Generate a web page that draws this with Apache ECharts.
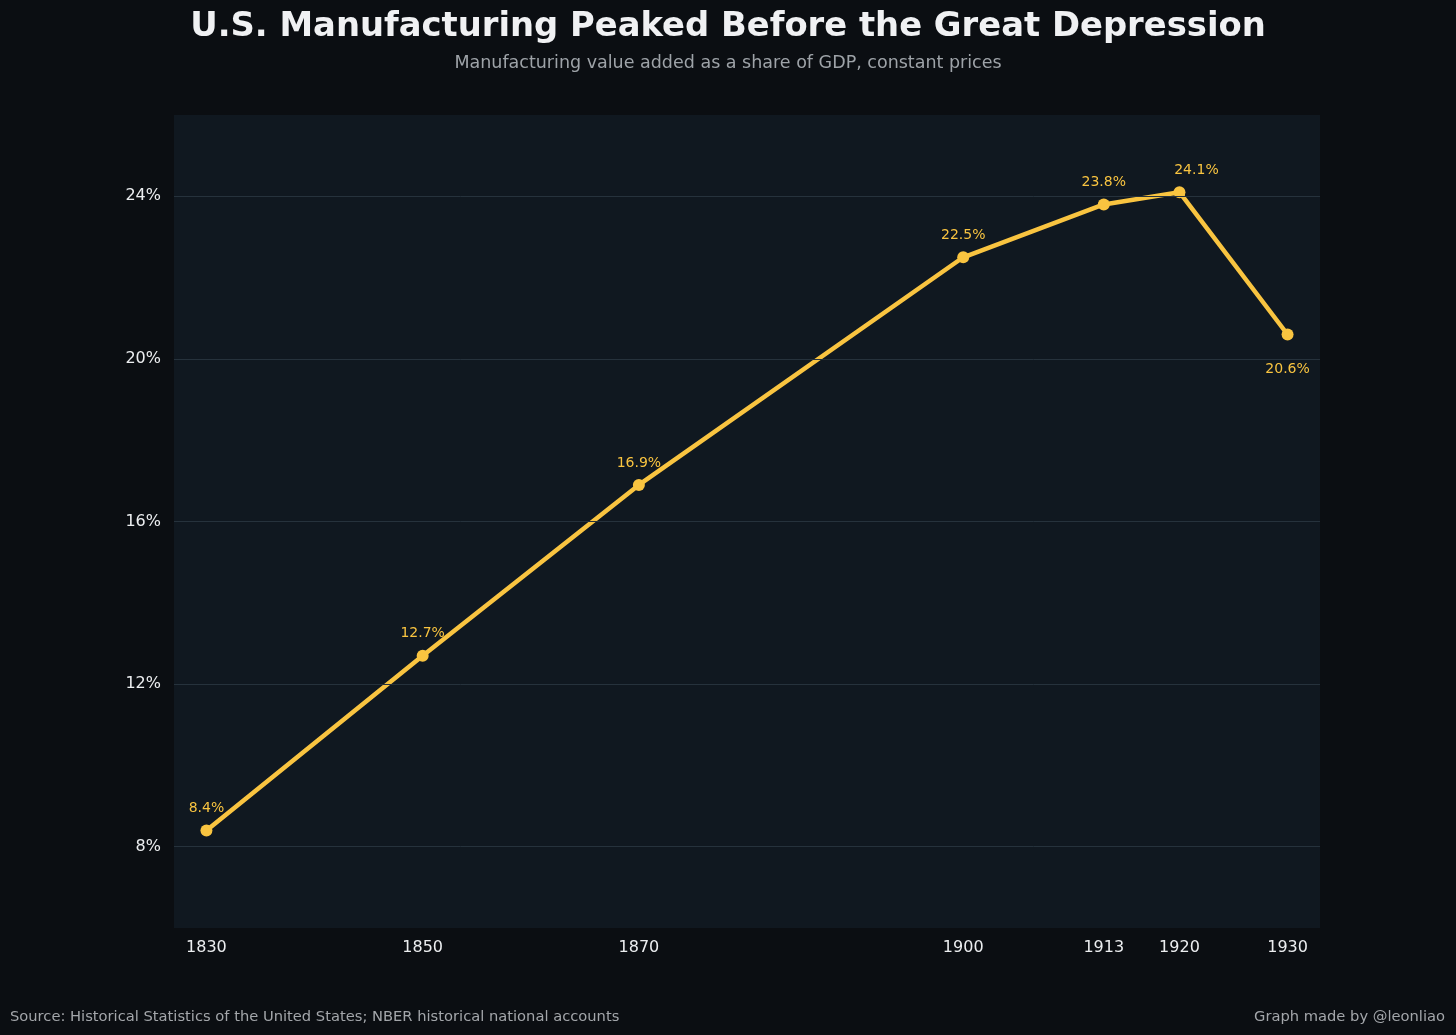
<!DOCTYPE html>
<html>
<head>
<meta charset="utf-8">
<script src="https://cdn.jsdelivr.net/npm/echarts@6/dist/echarts.min.js"></script>
<style>
  html, body { margin: 0; padding: 0; background: #0b0e12; }
  #chart { width: 1456px; height: 1035px; }
</style>
</head>
<body>
<div id="chart"></div>
<script>
const years = [1830, 1850, 1870, 1900, 1913, 1920, 1930];
const shares = [8.4, 12.7, 16.9, 22.5, 23.8, 24.1, 20.6];
const xTicks = [1830, 1850, 1870, 1900, 1913, 1920, 1930];
const yTicks = [8, 12, 16, 20, 24];

const FONT = '"DejaVu Sans", sans-serif';
const GOLD = '#f9c440';

// where each point label sits (matches the original annotation offsets)
const labelTweaks = {
  1920: { offset: [17, 0] },
  1930: { position: 'bottom', distance: 22 }
};

const chart = echarts.init(document.getElementById('chart'));

chart.setOption({
  backgroundColor: '#0b0e12',
  animation: false,
  title: [{
    text: 'U.S. Manufacturing Peaked Before the Great Depression',
    left: 'center',
    top: 5,
    textStyle: { fontFamily: FONT, fontSize: 33.8, fontWeight: 'bold', color: '#f0f1f3' }
  }, {
    text: 'Manufacturing value added as a share of GDP, constant prices',
    left: 'center',
    top: 49,
    textStyle: { fontFamily: FONT, fontSize: 17.5, fontWeight: 'normal', color: '#9ea3a8' }
  }, {
    text: 'Source: Historical Statistics of the United States; NBER historical national accounts',
    left: 5,
    top: 1005,
    textStyle: { fontFamily: FONT, fontSize: 14.7, fontWeight: 'normal', color: '#a3a6aa' }
  }, {
    text: 'Graph made by @leonliao',
    right: 6,
    top: 1005,
    textStyle: { fontFamily: FONT, fontSize: 14.7, fontWeight: 'normal', color: '#a3a6aa' }
  }],
  grid: {
    left: 174, right: 136, top: 115, bottom: 107,
    show: true,
    backgroundColor: '#101820',
    borderWidth: 0
  },
  xAxis: {
    type: 'value',
    min: 1827,
    max: 1933,
    axisLine: { show: false },
    axisTick: { show: false },
    splitLine: { show: false },
    axisLabel: {
      customValues: xTicks,
      color: '#eceef0',
      fontFamily: FONT,
      fontSize: 16,
      margin: 12,
      formatter: v => String(v)
    }
  },
  yAxis: {
    type: 'value',
    min: 6,
    max: 26,
    interval: 2,
    axisLine: { show: false },
    axisTick: { show: false },
    splitLine: { show: false },
    axisLabel: {
      color: '#eceef0',
      fontFamily: FONT,
      fontSize: 16,
      margin: 13,
      formatter: v => (yTicks.indexOf(v) >= 0 ? v + '%' : '')
    }
  },
  series: [{
    type: 'line',
    data: years.map((y, i) => {
      const p = { value: [y, shares[i]] };
      if (labelTweaks[y]) p.label = labelTweaks[y];
      return p;
    }),
    symbol: 'circle',
    symbolSize: 12,
    lineStyle: { color: GOLD, width: 4.5 },
    itemStyle: { color: GOLD },
    label: {
      show: true,
      position: 'top',
      distance: 9,
      color: GOLD,
      fontFamily: FONT,
      fontSize: 14,
      formatter: p => p.value[1].toFixed(1) + '%'
    },
    markLine: {
      silent: true,
      symbol: 'none',
      label: { show: false },
      lineStyle: { color: '#26323c', width: 1, type: 'solid' },
      data: yTicks.map(t => ({ yAxis: t }))
    },
    z: 3
  }]
});

window.addEventListener('resize', function () {
  chart.resize();
});
</script>
</body>
</html>
